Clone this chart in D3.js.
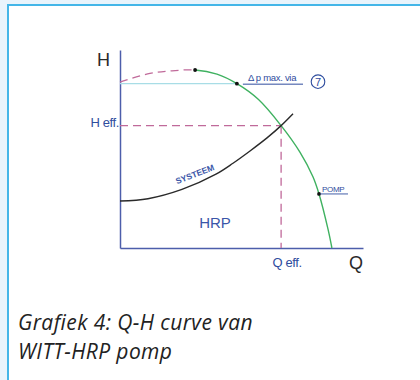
<!DOCTYPE html>
<html>
<head>
<meta charset="utf-8">
<script src="https://cdn.jsdelivr.net/npm/d3@7"></script>
<style>
  html, body { margin: 0; padding: 0; background: #e9f4fc; }
  svg { display: block; }
</style>
</head>
<body>
<div id="chart"></div>
<script>
// Pump curve (Q, H); left of the peak it is dashed
const pumpQ = [0, 12.3, 21.4, 30.9, 39.9, 48.1, 57, 66.3, 74.1, 79.4, 81.9, 85.6, 87.2];
const pumpH = [83.8, 88.2, 89.5, 89.9, 87.8, 83.0, 75.0, 61.8, 48.3, 36.0, 27.3, 9.5, 0];

// System curve
const systemQ = [0, 11.5, 25.5, 39.5, 46.5, 53.5, 60.5, 66.3, 71.2];
const systemH = [23.7, 24.9, 29.6, 37.3, 42.8, 49.0, 55.6, 61.8, 67.8];

// Operating point and markers
const effQ = 66.3, effH = 61.8;
const maxViaQ = 48.1, maxViaH = 83.0;
const pompQ = 81.9, pompH = 27.3;
const peakQ = 30.9, peakH = 89.9;

const captionLines = ["Grafiek 4: Q-H curve van", "WITT-HRP pomp"];

const W = 420, H = 380;
const svg = d3.select("#chart").append("svg")
    .attr("width", W)
    .attr("height", H);

// Frame
svg.append("rect").attr("x", 0).attr("y", 0).attr("width", W).attr("height", H).attr("fill", "#e9f4fc");
svg.append("rect").attr("x", 8).attr("y", 4).attr("width", W - 8).attr("height", H - 4).attr("fill", "#fff");
svg.append("line").attr("x1", 8).attr("x2", 8).attr("y1", 4).attr("y2", H)
    .attr("stroke", "#44b6e8").attr("stroke-width", 2);
svg.append("line").attr("x1", 8).attr("x2", W).attr("y1", 5).attr("y2", 5)
    .attr("stroke", "#44b6e8").attr("stroke-width", 2);

// Scales
const x = d3.scaleLinear().domain([0, 100]).range([120, 363]);
const y = d3.scaleLinear().domain([0, 100]).range([248, 50]);

const axisColor = "#4d5eab";
const pink = "#c06a9a";
const green = "#3fb160";
const labelBlue = "#2f4d9e";

// Clip regions to split the pump curve at its peak
const defs = svg.append("defs");
defs.append("clipPath").attr("id", "leftOfPeak")
    .append("rect").attr("x", 0).attr("y", 0).attr("width", x(peakQ)).attr("height", H);
defs.append("clipPath").attr("id", "rightOfPeak")
    .append("rect").attr("x", x(peakQ)).attr("y", 0).attr("width", W - x(peakQ)).attr("height", H);

// Axes (no ticks)
svg.append("g")
    .attr("transform", `translate(0,${y(0)})`)
    .call(d3.axisBottom(x).tickValues([]).tickSizeOuter(0))
    .select(".domain").attr("stroke", axisColor).attr("stroke-width", 1.5);
svg.append("g")
    .attr("transform", `translate(${x(0)},0)`)
    .call(d3.axisLeft(y).tickValues([]).tickSizeOuter(0))
    .select(".domain").attr("stroke", axisColor).attr("stroke-width", 1.5);

// Δp max line
svg.append("line")
    .attr("x1", x(0)).attr("x2", x(maxViaQ))
    .attr("y1", y(maxViaH)).attr("y2", y(maxViaH))
    .attr("stroke", "#a8dde6").attr("stroke-width", 1.2);

// Operating point dashed guides
svg.append("line")
    .attr("x1", x(0)).attr("x2", x(effQ))
    .attr("y1", y(effH)).attr("y2", y(effH))
    .attr("stroke", pink).attr("stroke-width", 1.3).attr("stroke-dasharray", "8,5");
svg.append("line")
    .attr("x1", x(effQ)).attr("x2", x(effQ))
    .attr("y1", y(effH)).attr("y2", y(0))
    .attr("stroke", pink).attr("stroke-width", 1.3).attr("stroke-dasharray", "8,5");

const line = d3.line()
    .x(d => x(d[0]))
    .y(d => y(d[1]))
    .curve(d3.curveCatmullRom.alpha(0.5));

const pump = pumpQ.map((q, i) => [q, pumpH[i]]);
const system = systemQ.map((q, i) => [q, systemH[i]]);

svg.append("path")
    .datum(pump)
    .attr("d", line)
    .attr("clip-path", "url(#leftOfPeak)")
    .attr("fill", "none").attr("stroke", pink).attr("stroke-width", 1.3)
    .attr("stroke-dasharray", "8,5");
svg.append("path")
    .datum(pump)
    .attr("d", line)
    .attr("clip-path", "url(#rightOfPeak)")
    .attr("fill", "none").attr("stroke", green).attr("stroke-width", 1.4);

svg.append("path")
    .datum(system)
    .attr("d", line)
    .attr("fill", "none").attr("stroke", "#2a2a2a").attr("stroke-width", 1.4);

// Dots
svg.selectAll(".dot")
    .data([[peakQ, peakH], [maxViaQ, maxViaH], [pompQ, pompH]])
    .enter().append("circle")
    .attr("class", "dot")
    .attr("cx", d => x(d[0]))
    .attr("cy", d => y(d[1]))
    .attr("r", 1.9)
    .attr("fill", "#111");

// Labels
const font = "'Liberation Sans', Arial, sans-serif";

svg.append("text").attr("x", 97).attr("y", 66)
    .style("font-family", font).style("font-size", "18px").style("fill", "#2a2a2a")
    .text("H");
svg.append("text").attr("x", 349).attr("y", 269)
    .style("font-family", font).style("font-size", "18px").style("fill", "#2a2a2a")
    .text("Q");

svg.append("text").attr("x", 119).attr("y", y(effH) + 1)
    .attr("text-anchor", "end")
    .style("font-family", font).style("font-size", "13px").style("letter-spacing", "-0.4px")
    .style("fill", labelBlue)
    .text("H eff.");
svg.append("text").attr("x", x(effQ) + 6).attr("y", 267)
    .attr("text-anchor", "middle")
    .style("font-family", font).style("font-size", "13px").style("letter-spacing", "-0.4px")
    .style("fill", labelBlue)
    .text("Q eff.");

svg.append("text").attr("x", 215).attr("y", 228)
    .attr("text-anchor", "middle")
    .style("font-family", font).style("font-size", "15px")
    .style("fill", "#3a56a8")
    .text("HRP");

svg.append("text")
    .attr("transform", "translate(196,177) rotate(-21)")
    .attr("text-anchor", "middle")
    .style("font-family", font).style("font-size", "8.5px").style("font-weight", "bold")
    .style("fill", "#3a56a8")
    .text("SYSTEEM");

// Δ p max. via label with underline and circled 7
svg.append("line")
    .attr("x1", x(maxViaQ) + 6).attr("x2", 303)
    .attr("y1", y(maxViaH) + 0.5).attr("y2", y(maxViaH) + 0.5)
    .attr("stroke", labelBlue).attr("stroke-width", 1);
svg.append("text").attr("x", 248).attr("y", y(maxViaH) - 2.5)
    .style("font-family", font).style("font-size", "9.5px").style("letter-spacing", "-0.3px")
    .style("fill", labelBlue)
    .text("Δ p max. via");
svg.append("circle").attr("cx", 318).attr("cy", y(maxViaH) - 2).attr("r", 6.8)
    .attr("fill", "none").attr("stroke", labelBlue).attr("stroke-width", 1.1);
svg.append("text").attr("x", 318).attr("y", y(maxViaH) + 2)
    .attr("text-anchor", "middle")
    .style("font-family", font).style("font-size", "11px")
    .style("fill", labelBlue)
    .text("7");

// POMP label
svg.append("line")
    .attr("x1", x(pompQ) + 1).attr("x2", 348)
    .attr("y1", y(pompH)).attr("y2", y(pompH))
    .attr("stroke", labelBlue).attr("stroke-width", 0.9);
svg.append("text").attr("x", 322).attr("y", y(pompH) - 2)
    .style("font-family", font).style("font-size", "8px").style("letter-spacing", "-0.3px")
    .style("fill", labelBlue)
    .text("POMP");

// Caption, two separate lines
svg.selectAll(".caption")
    .data(captionLines)
    .enter().append("text")
    .attr("class", "caption")
    .attr("x", 18)
    .attr("y", (d, i) => 330 + i * 29)
    .style("font-family", "'Open Sans', sans-serif")
    .style("font-style", "italic")
    .style("font-size", "21px")
    .style("letter-spacing", "0.4px")
    .style("fill", "#222")
    .text(d => d);
</script>
</body>
</html>
